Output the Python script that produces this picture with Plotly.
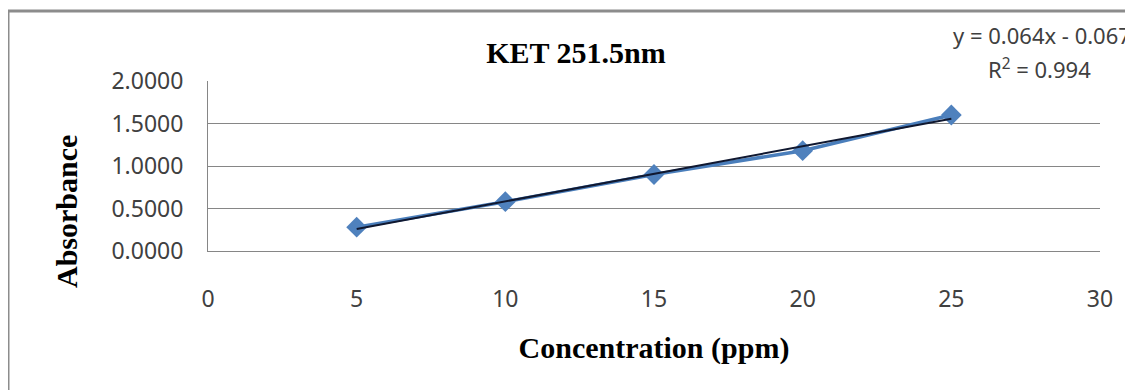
import numpy as np
import plotly.graph_objects as go

concentration = [5, 10, 15, 20, 25]
absorbance = [0.28, 0.58, 0.90, 1.18, 1.60]
x_ticks = [0, 5, 10, 15, 20, 25, 30]
y_ticks = [0.0, 0.5, 1.0, 1.5, 2.0]
y_tick_labels = ["0.0000", "0.5000", "1.0000", "1.5000", "2.0000"]
title_text = "KET 251.5nm"
x_title = "Concentration (ppm)"
y_title = "Absorbance"
equation_text = "y = 0.064x - 0.067"
r2_text = "R<sup>2</sup> = 0.994"

OFF = 8  # page body margin
W, H = 1133, 390
L, R, T, B = 208 - OFF, 1100 - OFF, 81 - OFF, 251 - OFF

slope, intercept = np.polyfit(concentration, absorbance, 1)
trend_x = [min(concentration), max(concentration)]
trend_y = [slope * v + intercept for v in trend_x]

def px_x(p):
    return (p - OFF - L) / (R - L)

def px_y(p):
    return (B - (p - OFF)) / (B - T)

fig = go.Figure()
fig.add_trace(go.Scatter(
    x=concentration, y=absorbance, mode="lines+markers",
    line=dict(color="#4A7EBB", width=3.5),
    marker=dict(symbol="diamond", size=16, color="#4F81BD"),
    showlegend=False,
))
fig.add_trace(go.Scatter(
    x=trend_x, y=trend_y, mode="lines",
    line=dict(color="#101830", width=2),
    showlegend=False,
))

tick_font = dict(family="Noto Sans", size=23, color="#404040")
title_font = dict(family="Liberation Serif", size=30, color="#000000")

fig.update_layout(
    width=W, height=H,
    margin=dict(l=L, r=W - R, t=T, b=H - B),
    paper_bgcolor="white", plot_bgcolor="white",
    title=dict(text="<b>" + title_text + "</b>", font=title_font,
               x=(576 - OFF) / W, xanchor="center", y=1 - (52 - OFF) / H, yanchor="middle"),
    xaxis=dict(range=[0, 30], tickvals=x_ticks, ticktext=[str(v) for v in x_ticks],
               showgrid=False, zeroline=False, showline=True, linecolor="#868686",
               linewidth=1, ticks="", tickfont=tick_font, ticklabelstandoff=27,
               title=dict(text="<b>" + x_title + "</b>", font=title_font, standoff=24),
               fixedrange=True),
    yaxis=dict(range=[0, 2], tickvals=y_ticks, ticktext=y_tick_labels,
               showgrid=True, gridcolor="#868686", gridwidth=1, zeroline=False,
               showline=True, linecolor="#868686", linewidth=1, ticks="",
               tickfont=tick_font, ticklabelstandoff=19,
               fixedrange=True),
)

fig.add_annotation(text="<b>" + y_title + "</b>", xref="paper", yref="paper",
                   x=px_x(66), y=px_y(212), xanchor="center", yanchor="middle",
                   textangle=-90, showarrow=False, font=title_font)

ann_font = dict(family="Noto Sans", size=22, color="#404040")
fig.add_annotation(text=equation_text, xref="paper", yref="paper",
                   x=px_x(1042), y=px_y(35), xanchor="center", yanchor="middle",
                   showarrow=False, font=ann_font)
fig.add_annotation(text=r2_text, xref="paper", yref="paper",
                   x=px_x(1039), y=px_y(68), xanchor="center", yanchor="middle",
                   showarrow=False, font=ann_font)

# outer chart border
fig.add_shape(type="line", xref="paper", yref="paper",
              x0=px_x(8), x1=px_x(8), y0=px_y(400), y1=px_y(11),
              line=dict(color="#8C8C8C", width=3))
fig.add_shape(type="line", xref="paper", yref="paper",
              x0=px_x(8), x1=px_x(1128), y0=px_y(11), y1=px_y(11),
              line=dict(color="#8C8C8C", width=3))
fig.add_shape(type="line", xref="paper", yref="paper",
              x0=px_x(1128), x1=px_x(1128), y0=px_y(400), y1=px_y(11),
              line=dict(color="#E0E0E0", width=2))

fig.write_html("out.html")
